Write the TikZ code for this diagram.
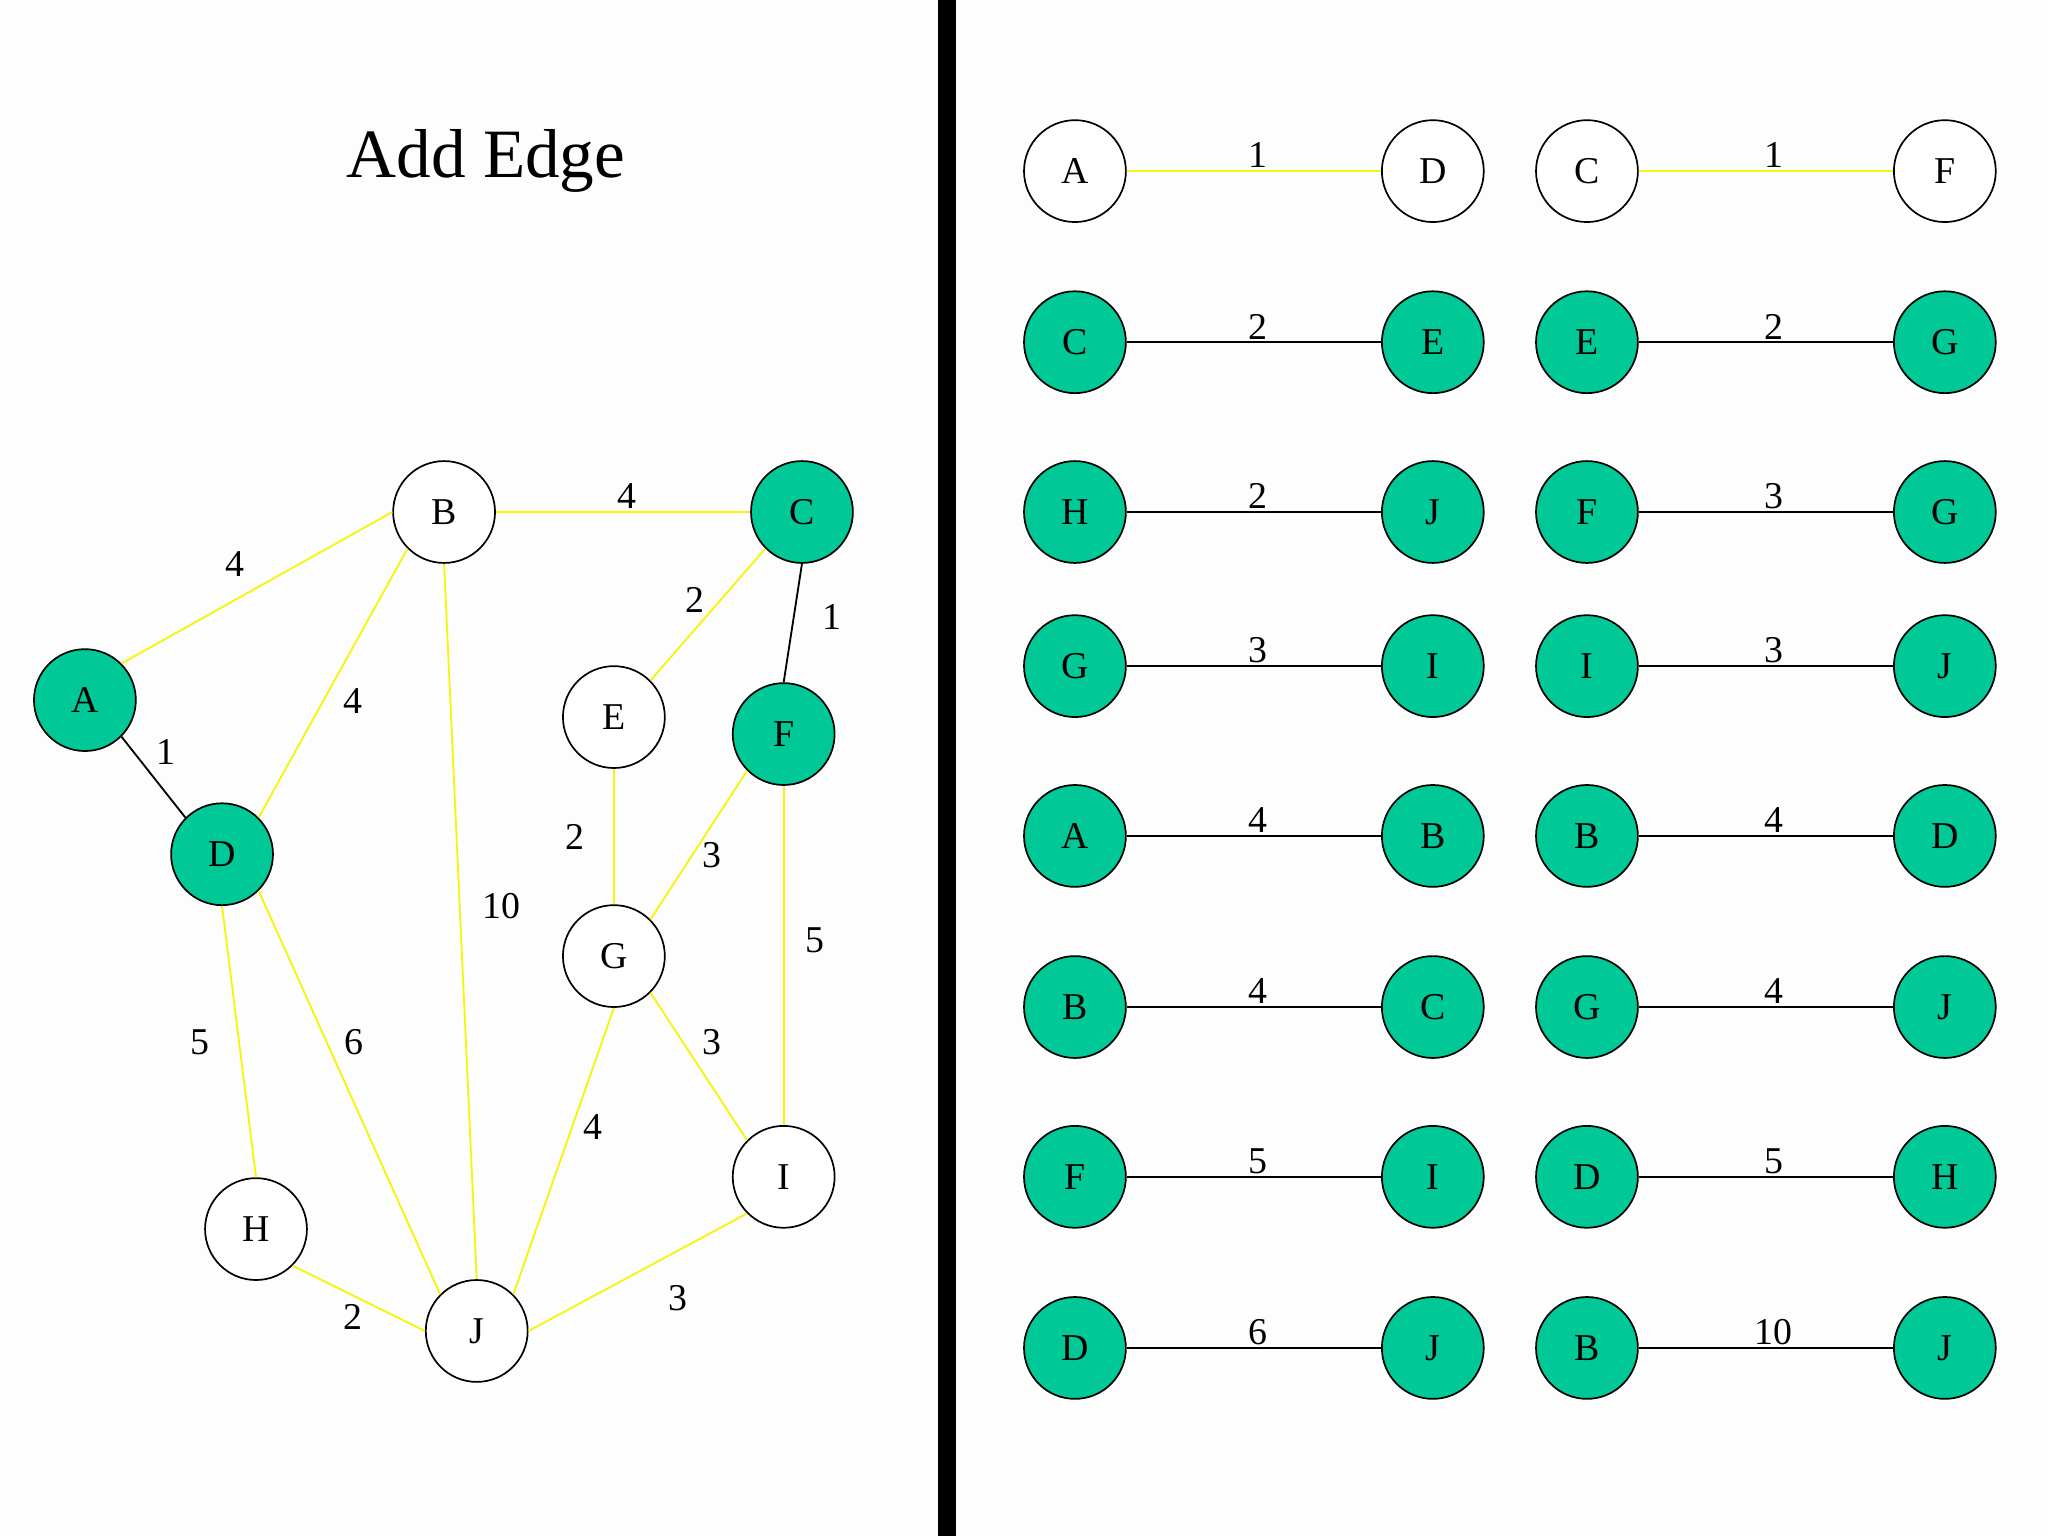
\documentclass[tikz,border=0pt]{standalone}
\usepackage{fontspec}
\setmainfont{Liberation Serif}
\definecolor{teal1}{HTML}{00C896}
\definecolor{yel}{HTML}{F5F50A}
\definecolor{bg}{HTML}{FDFDFD}
\tikzset{
  vx/.style={circle,draw=black,line width=1.3pt,minimum size=78pt,inner sep=0pt,font=\fontsize{29}{32}\selectfont},
  vw/.style={vx,fill=white},
  vg/.style={vx,fill=teal1},
  ey/.style={draw=yel,line width=1.4pt},
  eb/.style={draw=black,line width=1.4pt},
  lb/.style={font=\fontsize{29}{32}\selectfont,inner sep=0pt}
}
\begin{document}
\begin{tikzpicture}[x=1pt,y=-1pt]
\useasboundingbox (0,0) rectangle (1568,1176);
\fill[bg] (0,0) rectangle (1568,1176);
\fill[black] (718,0) rectangle (732,1176);
\node[font=\fontsize{53}{60}\selectfont] (title) at (372,123) {Add Edge};
% left graph nodes
\node[vg] (A) at (65,536) {A};
\node[vw] (B) at (340,392) {B};
\node[vg] (C) at (614,392) {C};
\node[vg] (D) at (170,654) {D};
\node[vw] (E) at (470,549) {E};
\node[vg] (F) at (600,562) {F};
\node[vw] (G) at (470,732) {G};
\node[vw] (H) at (196,941) {H};
\node[vw] (I) at (600,901) {I};
\node[vw] (J) at (365,1019) {J};
% edges
\draw[ey] (A.north east) -- (B.west);
\draw[eb] (A.south east) -- (D.north west);
\draw[ey] (B.east) -- (C.west);
\draw[ey] (B.south west) -- (D.north east);
\draw[ey] (B.south) -- (J.north);
\draw[ey] (C.south west) -- (E.north east);
\draw[eb] (C.south) -- (F.north);
\draw[ey] (E.south) -- (G.north);
\draw[ey] (F.south west) -- (G.north east);
\draw[ey] (F.south) -- (I.north);
\draw[ey] (D.south) -- (H.north);
\draw[ey] (D.south east) -- (J.north west);
\draw[ey] (G.south) -- (J.north east);
\draw[ey] (G.south east) -- (I.north west);
\draw[ey] (H.south east) -- (J.west);
\draw[ey] (J.east) -- (I.south west);
% edge labels
\node[lb] (lAB) at (180,432) {4};
\node[lb] (lAD) at (127,576) {1};
\node[lb] (lBC) at (480,380) {4};
\node[lb] (lBD) at (270,537) {4};
\node[lb] (lBJ) at (384,694) {10};
\node[lb] (lCE) at (532,459) {2};
\node[lb] (lCF) at (637,472) {1};
\node[lb] (lEG) at (440,641) {2};
\node[lb] (lFG) at (545,655) {3};
\node[lb] (lFI) at (624,720) {5};
\node[lb] (lDH) at (153,798) {5};
\node[lb] (lDJ) at (271,798) {6};
\node[lb] (lGJ) at (454,863) {4};
\node[lb] (lGI) at (545,798) {3};
\node[lb] (lHJ) at (270,1008) {2};
\node[lb] (lJI) at (519,994) {3};
% right list
\foreach \y/\a/\b/\w/\c/\d/\v/\st/\es in {
  131/A/D/1/C/F/1/vw/ey,
  262/C/E/2/E/G/2/vg/eb,
  392/H/J/2/F/G/3/vg/eb,
  510/G/I/3/I/J/3/vg/eb,
  640/A/B/4/B/D/4/vg/eb,
  771/B/C/4/G/J/4/vg/eb,
  901/F/I/5/D/H/5/vg/eb,
  1032/D/J/6/B/J/10/vg/eb}{
  \node[\st] (p1\y) at (823,\y) {\a};
  \node[\st] (p2\y) at (1097,\y) {\b};
  \node[\st] (p3\y) at (1215,\y) {\c};
  \node[\st] (p4\y) at (1489,\y) {\d};
  \draw[\es] (p1\y) -- (p2\y);
  \draw[\es] (p3\y) -- (p4\y);
  \node[lb] (w1\y) at (963,\y-12) {\w};
  \node[lb] (w2\y) at (1358,\y-12) {\v};
}
\end{tikzpicture}
\end{document}
